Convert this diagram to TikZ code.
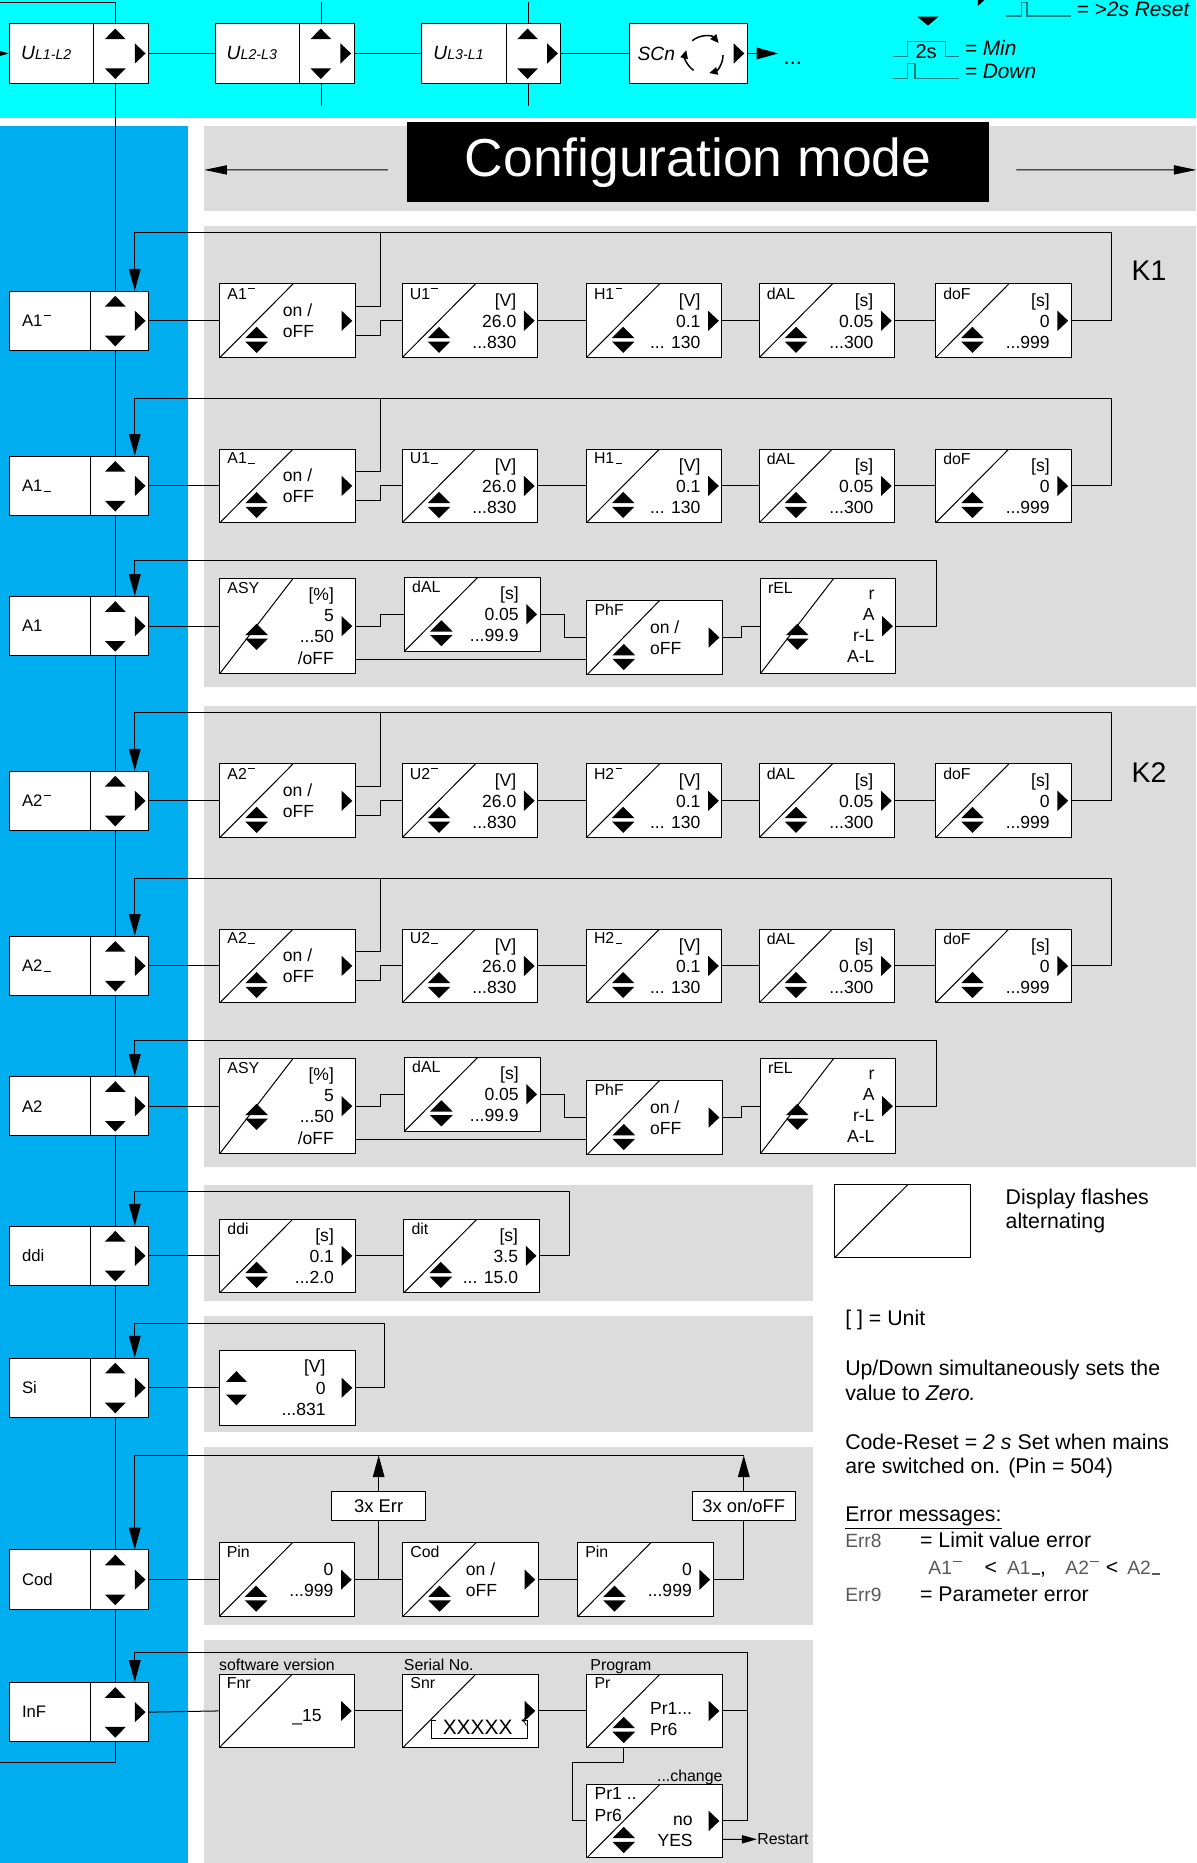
\documentclass[tikz,border=0pt]{standalone}
\usepackage{fontspec}
\setmainfont{Liberation Sans}
\newfontfamily\seg{Liberation Sans}
\usetikzlibrary{calc, arrows.meta}

\definecolor{topcyan}{RGB}{0,255,255}
\definecolor{colblue}{RGB}{0,174,239}
\definecolor{panelgray}{RGB}{220,220,220}
\definecolor{pulseteal}{RGB}{0,128,128}

% upper / lower limit marks of the display
\newcommand{\hi}{\kern0.08em\rule[0.66em]{0.42em}{0.07em}}
\newcommand{\lo}{\kern0.08em\rule{0.42em}{0.07em}}
% keys on the boxes
\newcommand{\rtri}[1]{\fill[black] #1 ++(-4.5,-8.5) -- ++(9,8.5) -- ++(-9,8.5) -- cycle;}
\newcommand{\utri}[1]{\fill[black] #1 ++(-8.75,4.5) -- ++(17.5,0) -- ++(-8.75,-9) -- cycle;}
\newcommand{\dtri}[1]{\fill[black] #1 ++(-8.75,-4.5) -- ++(17.5,0) -- ++(-8.75,9) -- cycle;}
\newcommand{\updn}[1]{\fill[black] #1 ++(-9.5,-1.5) -- ++(19,0) -- ++(-9.5,-9.5) -- cycle;
  \fill[black] #1 ++(-9.5,1.5) -- ++(19,0) -- ++(-9.5,9.5) -- cycle;}
\newcommand{\diag}{\draw[black] (path picture bounding box.south west) --
  ($(path picture bounding box.north west)!.54!(path picture bounding box.north east)$);}

\tikzset{
  menu/.style={draw, fill=white, minimum width=2.925cm, minimum height=1.25cm, inner sep=0pt,
    path picture={
      \draw[black] ($(path picture bounding box.north east)+(-#1,0)$) -- ($(path picture bounding box.south east)+(-#1,0)$);
      \utri{($(path picture bounding box.north east)+(-28,8.5)$)}
      \dtri{($(path picture bounding box.south east)+(-28,-8)$)}
      \rtri{($(path picture bounding box.east)+(-7,0)$)}}},
  menu/.default=49,
  dbox/.style={draw, fill=white, minimum width=2.85cm, minimum height=1.55cm, inner sep=0pt},
  disp/.style={dbox, path picture={\diag
      \updn{($(path picture bounding box.south west)+(31,-#1)$)}
      \rtri{($(path picture bounding box.east)+(-7,0)$)}}},
  disp/.default=15,
  dispn/.style={dbox, path picture={\diag \rtri{($(path picture bounding box.east)+(-7,0)$)}}},
  flashbox/.style={dbox, minimum width=2.8625cm, minimum height=1.5425cm, path picture={\diag}},
  sibox/.style={dbox, minimum height=1.575cm,
    path picture={\utri{($(path picture bounding box.west)+(14,-9.5)$)}
      \dtri{($(path picture bounding box.west)+(14,10.3)$)}
      \rtri{($(path picture bounding box.east)+(-7,0)$)}}},
  scnbox/.style={draw, fill=white, minimum width=2.4825cm, minimum height=1.25cm, inner sep=0pt,
    path picture={\rtri{($(path picture bounding box.east)+(-7,0)$)}}},
  errbox/.style={draw, fill=white, minimum width=1.975cm, minimum height=0.625cm, inner sep=0pt,
    font=\seg\fontsize{11}{13}\selectfont},
  ttl/.style={anchor=north west, inner sep=0pt, xshift=4.6pt, yshift=-2.2pt, align=left,
    font=\seg\fontsize{9.5}{13}\selectfont},
  val/.style={anchor=east, inner sep=0pt, xshift=-12.8pt, align=right,
    font=\seg\fontsize{10.5}{12.6}\selectfont},
  vall/.style={anchor=west, inner sep=0pt, xshift=37.8pt, align=left,
    font=\seg\fontsize{10.5}{12.6}\selectfont},
  mlab/.style={anchor=west, inner sep=0pt, xshift=7.5pt, font=\seg\fontsize{10}{12}\selectfont},
  ulab/.style={anchor=west, inner sep=0pt, xshift=7pt, font=\itshape\fontsize{11.5}{13}\selectfont},
  leg/.style={anchor=west, inner sep=0pt, font=\itshape\fontsize{12.5}{14}\selectfont},
  note/.style={anchor=north west, inner sep=0pt, align=left, font=\fontsize{12.75}{14.6}\selectfont},
  lbl/.style={inner sep=0pt, font=\fontsize{9.5}{11}\selectfont},
  pulse/.style={draw=pulseteal, line width=0.8pt},
  arr/.style={-{Triangle[length=13pt, width=7pt]}},
  arrw/.style={-{Triangle[length=13.5pt, width=5.5pt]}},
  arrs/.style={-{Triangle[length=9pt, width=5pt]}},
  cycarr/.style={line width=0.9pt, -{Triangle[length=5pt, width=4.5pt]}}
}

\begin{document}
\begin{tikzpicture}[x=0.025cm, y=-0.025cm, line width=0.6pt]
\useasboundingbox (0,0) rectangle (1007,1568);

% areas
\fill[topcyan] (0,0) rectangle (1007,99.5);
\fill[colblue] (0,106) rectangle (158,1568);
\foreach \ya/\yb/\xb in {106/178/1007, 190/578/1007, 594/982/1007, 997/1095/684,
    1108/1205/684, 1218/1368/684, 1380/1568/684}
  \fill[panelgray] (172,\ya) rectangle (\xb,\yb);

% key legend
\fill (772,14) -- (790,14) -- (781,21.5) -- cycle;
\fill (823,-13) -- (833,-4) -- (823,5) -- cycle;
\draw[pulse] (846.3,13.5) -| (859.5,2.2) -| (864.5,13.5) -- (901.5,13.5);
\draw[pulse] (752,47.7) -| (763.6,35) -| (795.7,47.7) -- (807.5,47.7);
\draw[pulse] (752,65.9) -| (763.6,53.3) -| (770,65.9) -- (807.5,65.9);
\node[font=\fontsize{12}{14}\selectfont, inner sep=0pt] (l2s) at (779.5,43.5) {2s};
\node[leg] (lres) at (905.8,7.9) {= >2s Reset};
\node[leg] (lmin) at (811.6,40.5) {= Min};
\node[leg] (ldown) at (811.6,60.3) {= Down};

% measured values
\node[menu=46, label={[ulab]west:{U{\fontsize{8.5}{10}\selectfont L1-L2}}}] (ul12) at (66.5,45) {};
\node[menu=46, label={[ulab]west:{U{\fontsize{8.5}{10}\selectfont L2-L3}}}] (ul23) at (239.5,45) {};
\node[menu=46, label={[ulab]west:{U{\fontsize{8.5}{10}\selectfont L3-L1}}}] (ul31) at (413.5,45) {};
\node[scnbox, label={[ulab, xshift=-2pt]west:SCn}] (scn) at (579.3,45) {};
\node[anchor=west, inner sep=3pt, font=\fontsize{13}{15}\selectfont] (more) at (655,53.5) {...};
\coordinate (topL) at (0,2.2);
\coordinate (inL) at (-15,45);
\draw (topL) -| ($(ul12.north east)+(-28,0)$);
\draw[arr] (inL) -- (ul12.west);
\draw (ul12.east) -- (ul23.west);
\draw (ul23.east) -- (ul31.west);
\draw (ul31.east) -- (scn.west);
\draw[arr] (scn.east) -- (scn.east -| more.west);
\foreach \ux in {ul23, ul31} {
  \draw ($(\ux.north east)+(-28,0)$) -- ++(0,-18.3);
  \draw ($(\ux.south east)+(-28,0)$) -- ++(0,18.8);
}
\coordinate (cyc) at ($(scn.center)+(13.5,1.3)$);
\draw[cycarr] ([shift={(130:11.2pt)}]cyc) arc[start angle=130, end angle=40, radius=11.2pt];
\draw[cycarr] ([shift={(0:11.2pt)}]cyc) arc[start angle=0, end angle=-75, radius=11.2pt];
\draw[cycarr] ([shift={(235:11.2pt)}]cyc) arc[start angle=235, end angle=165, radius=11.2pt];

% configuration mode
\node[fill=black, text=white, minimum width=12.225cm, minimum height=1.675cm, inner sep=0pt,
      font=\fontsize{32}{36}\selectfont] (cfg) at (587.5,136.5) {Configuration mode};
\coordinate (cfgL) at (172,143);
\coordinate (cfgR) at (1007,143);
\draw[arrw] ($(cfg.west)+(-16,6.5)$) -- (cfgL);
\draw[arrw] ($(cfg.east)+(23,6.5)$) -- (cfgR);

% relays K1 and K2
\foreach \kk/\dy/\ky in {1/0/228, 2/404/650} {
  \node[font=\fontsize{17}{20}\selectfont, inner sep=0pt] (klab\kk) at (967,\ky) {K\kk};
  \foreach \rw/\ry/\mk in {hi/0/hi, lo/139/lo} {
    \pgfmathsetmacro{\yc}{270+\dy+\ry}
    \node[menu, label={[mlab]west:A\kk\csname\mk\endcsname}] (m\rw\kk) at (66.5,\yc) {};
    \node[disp, label={[ttl]north west:A\kk\csname\mk\endcsname},
          label={[vall]west:{on /\\oFF}}] (sw\rw\kk) at (242,\yc) {};
    \node[disp, label={[ttl]north west:U\kk\csname\mk\endcsname},
          label={[val]east:{[V]\\26.0\\...830}}] (u\rw\kk) at (395.5,\yc) {};
    \node[disp, label={[ttl]north west:H\kk\csname\mk\endcsname},
          label={[val]east:{[V]\\0.1\\... 130}}] (h\rw\kk) at (550.5,\yc) {};
    \node[disp, label={[ttl]north west:dAL},
          label={[val]east:{[s]\\0.05\\...300}}] (d\rw\kk) at (696,\yc) {};
    \node[disp, label={[ttl]north west:doF},
          label={[val]east:{[s]\\0\\...999}}] (f\rw\kk) at (844.5,\yc) {};
    \draw (m\rw\kk.east) -- (sw\rw\kk.west);
    \draw ($(sw\rw\kk.east)+(0,12)$) -| (320,\yc) -- (u\rw\kk.west);
    \draw ($(sw\rw\kk.east)+(0,-12)$) -| (320,\yc-74);
    \draw (u\rw\kk.east) -- (h\rw\kk.west);
    \draw (h\rw\kk.east) -- (d\rw\kk.west);
    \draw (d\rw\kk.east) -- (f\rw\kk.west);
    \draw[arr] (f\rw\kk.east) -| (935.2,\yc-74) -| ($(m\rw\kk.north east)+(-12,0)$);
  }
  \pgfmathsetmacro{\yc}{527+\dy}
  \node[menu, label={[mlab]west:A\kk}] (mas\kk) at (66.5,\yc) {};
  \node[disp=31, minimum height=2cm, label={[ttl]north west:ASY},
        label={[val]east:{[\%]\\5\\...50\\/oFF}}] (asy\kk) at (242,\yc) {};
  \node[disp, label={[ttl]north west:dAL},
        label={[val]east:{[s]\\0.05\\...99.9}}] (dal\kk) at (397.5,\yc-10) {};
  \node[disp, minimum height=1.575cm, label={[ttl]north west:PhF},
        label={[vall]west:{on /\\oFF}}] (phf\kk) at (551,\yc+9.5) {};
  \node[disp=31, minimum height=2cm, label={[ttl]north west:rEL},
        label={[val]east:{r\\A\\r-L\\A-L}}] (rel\kk) at (697,\yc) {};
  \draw (mas\kk.east) -- (asy\kk.west);
  \draw (asy\kk.east) -- ++(21,0) |- (dal\kk.west);
  \draw ($(asy\kk.east)+(0,28)$) coordinate (o) -- (o -| phf\kk.west);
  \draw (dal\kk.east) -- ++(20.5,0) |- (phf\kk.west);
  \draw (phf\kk.east) -- ++(16,0) |- (rel\kk.west);
  \draw[arr] (rel\kk.east) -| (788,\yc-55) -| ($(mas\kk.north east)+(-12,0)$);
}

% display
\node[menu, label={[mlab]west:ddi}] (mddi) at (66.5,1057) {};
\node[disp, label={[ttl]north west:ddi}, label={[val]east:{[s]\\0.1\\...2.0}}] (ddi) at (242,1057) {};
\node[disp, label={[ttl]north west:dit}, label={[val]east:{[s]\\3.5\\... 15.0}}] (dit) at (397,1057) {};
\draw (mddi.east) -- (ddi.west);
\draw (ddi.east) -- (dit.west);
\draw[arr] (dit.east) -| (479,1003) -| ($(mddi.north east)+(-12,0)$);

% simulation
\node[menu, label={[mlab]west:Si}] (msi) at (66.5,1168) {};
\node[sibox, label={[val, xshift=-5pt]east:{[V]\\0\\...831}}] (si) at (242,1168) {};
\draw (msi.east) -- (si.west);
\draw[arr] (si.east) -| (324,1114) -| ($(msi.north east)+(-12,0)$);

% code
\node[menu, label={[mlab]west:Cod}] (mcod) at (66.5,1329.5) {};
\node[disp, label={[ttl]north west:Pin}, label={[val]east:{0\\...999}}] (pin1) at (241.5,1329.5) {};
\node[disp, label={[ttl]north west:Cod}, label={[vall]west:{on /\\oFF}}] (cod) at (396,1329.5) {};
\node[disp, label={[ttl]north west:Pin}, label={[val]east:{0\\...999}}] (pin2) at (543.2,1329.5) {};
\node[errbox] (err3) at (318.7,1267.5) {3x Err};
\node[errbox, minimum width=2.175cm] (onf3) at (626,1267.5) {3x on/oFF};
\coordinate (lcod) at (626,1225);
\draw (mcod.east) -- (pin1.west);
\draw (pin1.east) -- (cod.west);
\draw (cod.east) -- (pin2.west);
\draw (err3.south) -- (err3.south |- pin1.east);
\draw[arr] (err3.north) -- (err3.north |- lcod);
\draw (pin2.east) -| (onf3.south);
\draw[arr] (onf3.north) -- (lcod);
\draw[arr] (lcod) -| ($(mcod.north east)+(-12,0)$);

% info
\node[menu, label={[mlab]west:InF}] (minf) at (66.5,1441) {};
\node[dispn, label={[ttl]north west:Fnr},
      label={[val, xshift=-7pt, yshift=-3.5pt]east:{\_15}}] (fnr) at (241.5,1440) {};
\node[dispn, label={[ttl]north west:Snr}] (snr) at (396,1440) {};
\node[disp, label={[ttl]north west:Pr},
      label={[vall, yshift=-5pt]west:{Pr1...\\Pr6}}] (pr) at (551,1440) {};
\node[disp, label={[ttl, font=\seg\fontsize{10.5}{13}\selectfont]north west:{Pr1 ..\\Pr6}},
      label={[val, xshift=-5pt, yshift=-6pt]east:{no\\YES}}] (pr1) at (551,1532.6) {};
\node[inner sep=0pt, font=\fontsize{12.5}{14}\selectfont] (sxx) at (402,1454) {XXXXX};
\draw[-{To[length=3pt]}, line width=0.5pt] ($(snr.center)+(-29,8)$) -- ++(-4,0) -- ++(0,15)
  -- ++(81,0) -- ++(0,-15) -- ++(-5,0);
\node[lbl, anchor=base west] (lsw) at ($(fnr.north west)+(0,-3)$) {software version};
\node[lbl, anchor=base west] (lsn) at ($(snr.north west)+(1,-3)$) {Serial No.};
\node[lbl, anchor=base west] (lpr) at ($(pr.north west)+(3,-3)$) {Program};
\node[lbl, anchor=base east] (lch) at ($(pr1.north east)+(0,-2)$) {...change};
\node[lbl, anchor=west] (rst) at (637,1548) {Restart};
\coordinate (linf) at (629,1391);
\draw (minf.east) -- (fnr.west);
\draw (fnr.east) -- (snr.west);
\draw (snr.east) -- (pr.west);
\draw (pr.east) -- (pr.east -| linf);
\draw ($(pr.south west)+(31,0)$) |- (481.6,1483.4) |- (pr1.west);
\draw[arr] (pr1.east) -| (linf) -| ($(minf.north east)+(-12,0)$);
\draw[arrs] ($(pr1.east)+(0,15.5)$) -- (rst.west);

% main line through the menu
\foreach \ua/\ub in {ul12/mhi1, mhi1/mlo1, mlo1/mas1, mas1/mhi2, mhi2/mlo2, mlo2/mas2,
    mas2/mddi, mddi/msi, msi/mcod, mcod/minf}
  \draw ($(\ua.south east)+(-28,0)$) -- ($(\ub.north east)+(-28,0)$);
\coordinate (outL) at (0,1483.4);
\draw ($(minf.south east)+(-28,0)$) |- (outL);

% notes
\node[flashbox] (flash) at (759.6,1027.8) {};
\node[note] (nflash) at (846,1000.2) {Display flashes\\alternating};
\node[note] (nunit) at (711,1102.5) {[ ] = Unit};
\node[note] (nzero) at (711,1144.5) {Up/Down simultaneously sets the\\value to \textit{Zero.}};
\node[note] (ncode) at (711,1206.3) {Code-Reset = \textit{2 s} Set when mains\\are switched on. (Pin = 504)};
\node[note] (nerr) at (711,1268) {\underline{Error messages:}};
\node[note] (nerr8) at (711,1289) {\makebox[44.8pt][l]{\color{black!65}\seg\fontsize{11.5}{13}\selectfont Err8}= Limit value error};
\node[note] (nlim) at (781,1313) {\makebox[33.6pt][l]{\color{black!65}\seg\fontsize{11.5}{13}\selectfont A1\hi}\makebox[13.5pt][l]{<}\makebox[34.9pt][l]{{\color{black!65}\seg\fontsize{11.5}{13}\selectfont A1\lo},}\makebox[24.2pt][l]{\color{black!65}\seg\fontsize{11.5}{13}\selectfont A2\hi}\makebox[12.8pt][l]{<}{\color{black!65}\seg\fontsize{11.5}{13}\selectfont A2\lo}};
\node[note] (nerr9) at (711,1335.3) {\makebox[44.8pt][l]{\color{black!65}\seg\fontsize{11.5}{13}\selectfont Err9}= Parameter error};
\end{tikzpicture}
\end{document}
